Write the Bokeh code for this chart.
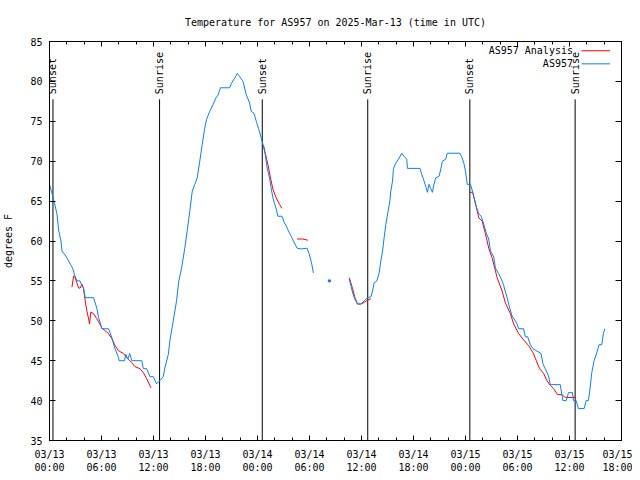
import math
from bokeh.plotting import figure
from bokeh.models import FixedTicker, LinearAxis, Range1d, Label
from bokeh.embed import file_html
from bokeh.resources import INLINE

TITLE = "Temperature for AS957 on 2025-Mar-13 (time in UTC)"
FONT = "DejaVu Sans Mono"

# x = hours since 2025-03-13 00:00 UTC
tick_hours = [0, 6, 12, 18, 24, 30, 36, 42, 48, 54, 60, 66]
tick_labels = ["03/13\n00:00", "03/13\n06:00", "03/13\n12:00", "03/13\n18:00",
               "03/14\n00:00", "03/14\n06:00", "03/14\n12:00", "03/14\n18:00",
               "03/15\n00:00", "03/15\n06:00", "03/15\n12:00", "03/15\n18:00"]
minor_hours = list(range(0, 67, 2))
y_ticks = [35, 40, 45, 50, 55, 60, 65, 70, 75, 80, 85]

sunset_hours = [0.4, 24.55, 48.5]
sunrise_hours = [12.7, 36.72, 60.65]

# AS957 observations (segments)
blue1_h = [0.0, 0.52, 0.86, 1.06, 1.32, 1.44, 1.9, 2.21, 2.39, 2.67, 2.85, 3.16, 3.51, 3.66, 3.93, 4.12, 5.08, 5.46, 5.66, 5.84,
           6.04, 6.81, 7.19, 7.53, 7.96, 8.03, 8.65, 8.8, 9.03, 9.26, 9.49, 10.64, 10.83, 11.21, 11.59, 11.98, 12.36, 12.74, 13.13, 13.31,
           13.71, 13.89, 14.28, 14.66, 14.92, 15.24, 15.61, 15.89, 16.19, 16.47, 16.76, 17.04, 17.34, 17.62, 17.91, 18.11, 18.49, 18.88, 19.18, 19.46,
           19.72, 20.79, 20.98, 21.36, 21.67, 21.94, 22.33, 22.71, 23.09, 23.28, 23.59, 23.86, 24.12, 24.43, 24.63, 24.89, 25.12, 25.39, 25.58, 25.78,
           25.96, 26.16, 26.35, 26.81, 27.11, 27.31, 27.57, 27.88, 28.26, 28.57, 29.03, 29.72, 29.99, 30.26, 30.45]
blue1_t = [67.1, 65, 63.4, 61.3, 60, 58.75, 58.1, 57.5, 57.1, 56.6, 55.9, 55, 55, 54.6, 54.1, 52.9, 52.9, 51.6, 50.4, 49.8,
           49, 49, 47.9, 46.6, 45.4, 45, 45, 45.8, 45.2, 45.9, 45, 45, 44, 44, 43, 43, 42.1, 42.5, 43, 44.1,
           45.8, 47.5, 50, 52.5, 55, 56.6, 59.1, 61.3, 63.75, 66.25, 67.1, 67.9, 70, 72.1, 74.1, 75.2, 76.25, 77.1, 77.9, 78.3,
           79.2, 79.2, 79.75, 80.4, 81, 80.6, 80, 78.3, 77.3, 76.25, 76, 75, 74.1, 72.9, 72.1, 70.9, 69.1, 67.9, 66.6, 65.4,
           64.75, 64, 63.1, 63.1, 62.25, 61.9, 61.25, 60.6, 59.75, 59.1, 59, 59.1, 58.3, 57.1, 56]
blue2_h = [32.29]
blue2_t = [55]
blue3_h = [34.59, 34.78, 34.98, 35.24, 35.55, 35.93, 36.31, 36.7, 37.08, 37.28,
           37.46, 37.77, 38.04, 38.23, 38.43, 38.61, 38.81, 39.07, 39.27, 39.38,
           39.58, 39.69, 39.96, 40.34, 40.65, 40.91, 41.22, 41.3, 42.75, 42.91,
           43.14, 43.4, 43.6, 43.79, 43.98, 44.18, 44.36, 44.56, 44.94, 45.13,
           45.33, 45.71, 45.9, 47.35, 47.55, 47.81, 48.0, 48.2, 48.58, 48.89,
           49.15, 49.53, 49.81, 50.11, 50.42, 50.68, 50.88, 51.26, 51.45, 51.83,
           52.22, 52.41, 52.8, 53.1, 53.37, 53.75, 53.95, 54.13, 54.71, 54.9,
           55.17, 55.48, 55.79, 56.71, 56.94, 57.2, 57.58, 57.78, 58.93, 59.24,
           59.62, 59.88, 60.34, 60.46, 60.77, 61.03, 61.69, 61.92, 62.18, 62.38,
           62.57, 62.84, 63.15, 63.41, 63.72, 63.91, 64.07]
blue3_t = [55.2, 54.4, 53.5, 52.7, 52.1, 52.1, 52.5, 52.9, 53, 53.75,
           54.75, 55, 56, 57.5, 58.75, 60.4, 62.1, 63.75, 65, 66.25,
           67.5, 69.1, 69.75, 70.4, 71, 70.6, 70.25, 69.1, 69.1, 68.5,
           67.75, 66.9, 66.1, 67.1, 66.6, 66.1, 67.1, 67.9, 68.1, 68.9,
           70, 70.25, 71, 71, 70.6, 69.75, 68.75, 67.1, 67.1, 65.9,
           64.6, 63.4, 63.1, 62.1, 60.9, 60.25, 58.75, 58, 56.6, 55.9,
           55, 54.4, 52.9, 51.6, 50.6, 50, 49.6, 49, 49, 48,
           48, 47, 46.5, 45.9, 44.6, 44, 43.1, 42, 42, 40,
           40, 41, 41, 40, 40, 39, 39, 40, 40, 41.6,
           43.5, 45, 46, 47, 47, 48.4, 49]

# AS957 Analysis (segments)
red1_h = [2.59, 2.78, 2.97, 3.16, 3.36, 3.54, 3.74, 3.93, 4.12, 4.31, 4.51, 4.62, 4.77, 5.08, 5.46, 5.73, 6.04, 6.42, 6.81, 7.19,
          7.57, 7.96, 8.53, 8.91, 9.49, 9.87, 10.44, 10.83, 11.21, 11.71]
red1_t = [54.2, 55.6, 55.4, 54.75, 54.1, 54.1, 54.6, 54, 52.5, 51.25, 50.25, 49.6, 51.1, 50.9, 50.25, 49.75, 49.1, 48.75, 48.4, 47.75,
          46.9, 46.25, 45.9, 45.4, 44.75, 44.25, 44, 43.5, 42.75, 41.6]
red2_h = [24.7, 24.89, 25.2, 25.5, 25.78, 26.16, 26.54, 26.81]
red2_t = [72, 71, 69.6, 67.9, 66.5, 65.4, 64.6, 64.1]
red3_h = [28.57, 29.23, 29.8]
red3_t = [60.25, 60.25, 60.1]
red4_h = [34.59, 34.98, 35.24, 35.55, 35.93, 36.31, 36.7, 37.08]
red4_t = [55.4, 54, 52.9, 52.1, 52.1, 52.3, 52.6, 52.75]
red5_h = [48.47, 48.82, 49.15, 49.53, 49.92, 50.3, 50.68, 51.07, 51.65, 52.22, 52.6, 53.18, 53.56, 54.13, 54.71, 55.28, 55.79,
          56.17, 56.55, 57.01, 57.4, 57.78, 58.16, 58.62, 59.12, 59.5, 60.77]
red5_t = [66.1, 66.1, 64.75, 62.9, 62.5, 60.9, 59.1, 57.9, 55.4, 53.75, 52.25, 50.9, 49.6, 48.4, 47.6, 46.9, 46,
          45, 44, 43.4, 42.5, 41.9, 41.5, 40.75, 40.75, 40.4, 40.4]

RED = "#ff0000"
BLUE = "#0a7ff5"


def join(segs):
    xs, ys = [], []
    for i, (h, t) in enumerate(segs):
        if i:
            xs.append(float("nan"))
            ys.append(float("nan"))
        xs += h
        ys += t
    return xs, ys


p = figure(width=632, height=476, x_range=Range1d(0, 66), y_range=Range1d(35, 85),
           output_backend="svg", toolbar_location=None,
           min_border_left=47, min_border_right=11, min_border_top=40, min_border_bottom=36)
p.xgrid.visible = False
p.ygrid.visible = False
p.outline_line_color = "black"
p.outline_line_alpha = 1.0
p.background_fill_color = "white"
p.border_fill_color = "white"

p.title.text = TITLE
p.title.align = "center"
p.title.text_font = FONT
p.title.text_font_size = "10px"
p.title.text_font_style = "normal"
p.title.text_color = "black"
p.title.standoff = 28

xt = FixedTicker(ticks=tick_hours, minor_ticks=minor_hours)
yt = FixedTicker(ticks=y_ticks, minor_ticks=[])

xa = p.xaxis[0]
xa.ticker = xt
xa.major_label_overrides = {h: lab for h, lab in zip(tick_hours, tick_labels)}
ya = p.yaxis[0]
ya.ticker = yt
ya.axis_label = "degrees F"

for ax in (xa, ya):
    ax.axis_line_color = "black"
    ax.major_tick_line_color = "black"
    ax.minor_tick_line_color = "black"
    ax.major_tick_out = 0
    ax.minor_tick_out = 0
    ax.major_label_text_font = FONT
    ax.major_label_text_font_size = "10px"
    ax.major_label_text_color = "black"
    ax.axis_label_text_font = FONT
    ax.axis_label_text_font_size = "10px"
    ax.axis_label_text_font_style = "normal"
    ax.axis_label_text_color = "black"
xa.major_tick_in = 5
xa.minor_tick_in = 3
xa.major_label_standoff = 8
ya.major_tick_in = 6
ya.minor_tick_in = 0
ya.major_label_standoff = 7
ya.axis_label_standoff = 13

top = LinearAxis(ticker=FixedTicker(ticks=tick_hours, minor_ticks=minor_hours),
                 major_label_overrides={h: "" for h in tick_hours}, major_label_standoff=0,
                 major_tick_in=5, major_tick_out=0, minor_tick_in=3, minor_tick_out=0,
                 axis_line_color="black")
right = LinearAxis(ticker=FixedTicker(ticks=y_ticks, minor_ticks=[]),
                   major_label_overrides={v: "" for v in y_ticks}, major_label_standoff=0,
                   major_tick_in=6, major_tick_out=0, minor_tick_in=0, minor_tick_out=0,
                   axis_line_color="black")
p.add_layout(top, "above")
p.add_layout(right, "right")

# sunrise / sunset markers
for hours, name in ((sunset_hours, "Sunset"), (sunrise_hours, "Sunrise")):
    p.segment(x0=hours, y0=[35] * len(hours), x1=hours, y1=[77.75] * len(hours),
              line_color="black", line_width=1)
    for h in hours:
        p.add_layout(Label(x=h, y=78.4, text=name, angle=math.pi / 2,
                           text_align="left", text_baseline="middle",
                           text_font=FONT, text_font_size="10px", text_color="black"))

rx, ry = join([(red1_h, red1_t), (red2_h, red2_t), (red3_h, red3_t), (red4_h, red4_t), (red5_h, red5_t)])
p.line(rx, ry, line_color=RED, line_width=1)
bx, by = join([(blue1_h, blue1_t), (blue3_h, blue3_t)])
p.line(bx, by, line_color=BLUE, line_width=1)
p.scatter(blue2_h, blue2_t, marker="square", size=2, line_color=BLUE, fill_color=BLUE)

# legend (gnuplot style: text left of sample)
for yv, name, col in ((83.84, "AS957 Analysis", RED), (82.2, "AS957", BLUE)):
    p.add_layout(Label(x=60.4, y=yv, text=name, text_align="right", text_baseline="middle",
                       text_font=FONT, text_font_size="10px", text_color="black"))
    p.segment(x0=[61.4], y0=[yv], x1=[64.68], y1=[yv], line_color=col, line_width=1)

open("out.html", "w").write(file_html(p, INLINE))
